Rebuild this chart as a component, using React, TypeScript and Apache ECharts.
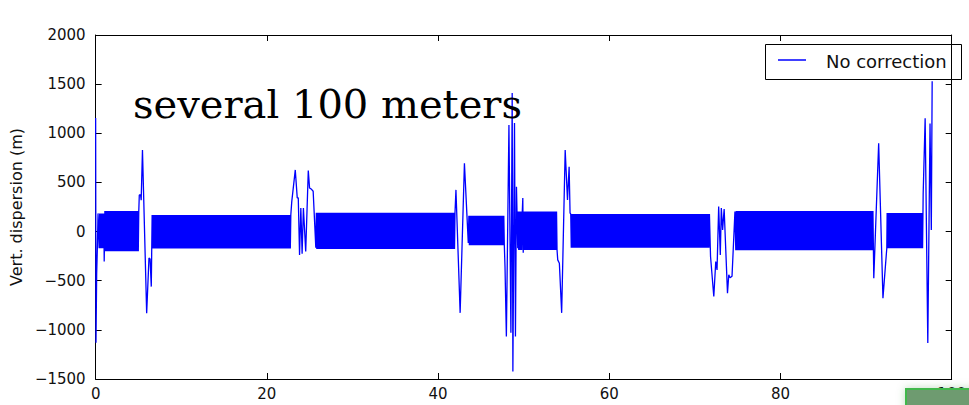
import React, { useEffect, useRef } from "react";
import * as echarts from "echarts";

// Fast-oscillating stretches: [xStart, xEnd, upper envelope, lower envelope]
const BANDS: [number, number, number, number][] = [
  [0.35, 0.95, 185, -170],
  [1.08, 5.05, 210, -200],
  [6.6, 22.85, 168, -172],
  [25.78, 42.0, 192, -178],
  [43.6, 47.75, 160, -138],
  [49.36, 49.85, 203, -188],
  [50.0, 53.92, 203, -188],
  [55.5, 71.75, 178, -165],
  [74.72, 90.85, 208, -190],
  [92.46, 96.62, 188, -170],
];

// Transient excursions before, between and after the oscillating stretches
const T_START: [number, number][] = [[0.0, 1155], [0.04, -1131], [0.12, -430], [0.2, -170], [0.28, 185]];
const T_KICK_1: [number, number][] = [[1.0, -305]];
const T_5M: [number, number][] = [[5.1, 373], [5.25, 373], [5.32, 320], [5.47, 830], [5.96, -830], [6.23, -270], [6.36, -280], [6.5, -560]];
const T_24M: [number, number][] = [
  [22.91, 305], [23.32, 627], [23.55, 343], [23.67, 343], [23.82, -237], [23.97, 240], [24.12, -225],
  [24.27, 240], [24.54, -203], [24.84, 620], [24.99, 444], [25.22, 430], [25.41, 410], [25.72, -165],
];
const T_42M: [number, number][] = [[42.09, 424], [42.58, -827], [43.08, 695], [43.53, -115]];
const T_48M: [number, number][] = [
  [47.82, -355], [47.98, -1067], [48.28, 1085], [48.51, -1030], [48.66, 1409], [48.74, -1423],
  [48.93, 1105], [49.04, -1067], [49.16, 457], [49.31, -170],
];
const T_KICK_50: [number, number][] = [[49.9, 342], [49.95, -215]];
const T_54M: [number, number][] = [[53.98, -288], [54.17, -322], [54.44, -827], [54.85, 830], [55.12, 322], [55.31, 660], [55.42, 190]];
const T_73M: [number, number][] = [
  [71.83, -254], [72.21, -660], [72.44, -305], [72.59, -390], [72.78, 254], [72.97, -237], [73.09, 240],
  [73.24, 17], [73.42, 230], [73.81, -627], [73.96, -440], [74.11, -470], [74.34, -455], [74.68, 203],
];
const T_91M: [number, number][] = [[90.9, -474], [91.47, 898], [91.97, -677], [92.42, -169]];
const T_END: [number, number][] = [[96.67, 390], [96.9, 1152], [97.21, -1134], [97.47, 1100], [97.62, 17], [97.72, 1530]];

const TRANSIENTS = [T_START, T_KICK_1, T_5M, T_24M, T_42M, T_48M, T_KICK_50, T_54M, T_73M, T_91M, T_END];

const X_TICKS = { min: 0, max: 100, interval: 20 };
const Y_TICKS = { min: -1500, max: 2000, interval: 500 };

// spacing of the turns inside an oscillating stretch (in x units)
const TURN_STEP = 0.06;

function buildTrace(): [number, number][] {
  const pts: [number, number][] = [];
  BANDS.forEach(([s, e, hi, lo], i) => {
    pts.push(...TRANSIENTS[i]);
    let k = 0;
    for (let x = s; x <= e + 1e-9; x += TURN_STEP, k++) {
      pts.push([+x.toFixed(3), k % 2 === 0 ? hi : lo]);
    }
  });
  pts.push(...TRANSIENTS[BANDS.length]);
  return pts;
}

const SANS = "DejaVu Sans";
const fmt = (v: number) => (v < 0 ? "\u2212" + Math.abs(v) : String(v));

const axisLine = () => ({ show: true, onZero: false, lineStyle: { color: "#000", width: 1 } });
const tick = () => ({ show: true, inside: true, length: 6, lineStyle: { color: "#000", width: 1 } });

export default function App() {
  const ref = useRef<HTMLDivElement>(null);

  useEffect(() => {
    if (!ref.current) return;
    const chart = echarts.init(ref.current, undefined, { renderer: "svg" });
    chart.setOption({
      animation: false,
      backgroundColor: "#fff",
      grid: { left: 93, top: 35, width: 877, height: 344, containLabel: false },
      xAxis: [
        {
          type: "value",
          position: "bottom",
          ...X_TICKS,
          axisLine: axisLine(),
          axisTick: tick(),
          splitLine: { show: false },
          axisLabel: { color: "#111", fontSize: 15, fontFamily: SANS, margin: 7, formatter: fmt },
        },
        {
          type: "value",
          position: "top",
          ...X_TICKS,
          axisLine: axisLine(),
          axisTick: tick(),
          splitLine: { show: false },
          axisLabel: { show: false },
        },
      ],
      yAxis: [
        {
          type: "value",
          position: "left",
          ...Y_TICKS,
          axisLine: axisLine(),
          axisTick: tick(),
          splitLine: { show: false },
          axisLabel: { color: "#111", fontSize: 15, fontFamily: SANS, margin: 10, formatter: fmt },
          name: "Vert. dispersion (m)",
          nameLocation: "middle",
          nameGap: 69,
          nameTextStyle: { color: "#111", fontSize: 16, fontFamily: SANS },
        },
        {
          type: "value",
          position: "right",
          ...Y_TICKS,
          axisLine: axisLine(),
          axisTick: tick(),
          splitLine: { show: false },
          axisLabel: { show: false },
        },
      ],
      series: [
        {
          name: "No correction",
          type: "line",
          data: buildTrace(),
          showSymbol: false,
          symbol: "none",
          clip: true,
          lineStyle: { color: "#0000ff", width: 1.3 },
        },
      ],
      graphic: [
        {
          type: "text",
          left: 133,
          top: 84,
          z: 10,
          style: {
            text: "several 100 meters",
            fontFamily: "DejaVu Serif",
            fontSize: 40,
            fill: "#000",
          },
        },
        {
          type: "group",
          z: 20,
          children: [
            {
              type: "rect",
              shape: { x: 765.5, y: 44.5, width: 196, height: 35 },
              style: { fill: "#fff", stroke: "#000", lineWidth: 1 },
            },
            {
              type: "line",
              shape: { x1: 778, y1: 60, x2: 806, y2: 60 },
              style: { stroke: "#0000ff", lineWidth: 1.5 },
            },
            {
              type: "text",
              x: 826,
              y: 61,
              style: {
                text: "No correction",
                fontFamily: SANS,
                fontSize: 18,
                fill: "#111",
                verticalAlign: "middle",
              },
            },
          ],
        },
        {
          type: "rect",
          z: 30,
          shape: { x: 906, y: 389, width: 70, height: 20 },
          style: {
            fill: "#6e9b70",
            stroke: "#3fb84c",
            lineWidth: 2,
            shadowBlur: 8,
            shadowColor: "rgba(40,120,40,0.25)",
          },
        },
      ],
    });
    return () => chart.dispose();
  }, []);

  return (
    <div
      ref={ref}
      style={{ position: "fixed", left: 0, top: 0, width: 969, height: 405 }}
    />
  );
}
